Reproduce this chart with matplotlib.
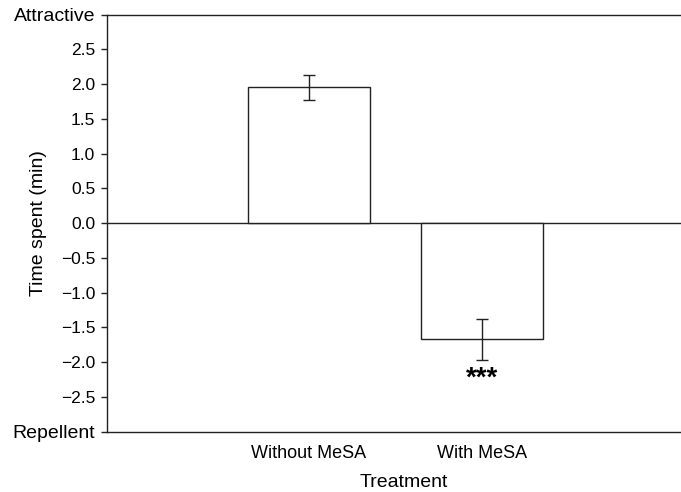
import matplotlib
matplotlib.use("Agg")
import matplotlib.pyplot as plt

plt.rcParams['font.family'] = ['Liberation Sans', 'DejaVu Sans']

categories = ["Without MeSA", "With MeSA"]
means = [1.95, -1.67]
errors = [0.177, 0.295]
yticks = [-3.0, -2.5, -2.0, -1.5, -1.0, -0.5, 0.0, 0.5, 1.0, 1.5, 2.0, 2.5, 3.0]
ytick_labels = ["Repellent", "\u22122.5", "\u22122.0", "\u22121.5", "\u22121.0", "\u22120.5",
                "0.0", "0.5", "1.0", "1.5", "2.0", "2.5", "Attractive"]
signif = ["", "***"]

fig = plt.figure(figsize=(6.81, 4.92), dpi=100)
ax = fig.add_axes([107/681, 1-431.5/492, 574/681, 417/492])

x = [1, 2]
ax.bar(x, means, width=0.705, color='white', edgecolor='#222222', linewidth=1.0, zorder=2)
ax.errorbar(x, means, yerr=errors, fmt='none', ecolor='#222222', elinewidth=1.0,
            capsize=4.5, capthick=1.0, zorder=3)
ax.axhline(0, color='#222222', linewidth=1.0, zorder=1)

for xi, m, e, s in zip(x, means, errors, signif):
    if s:
        ax.text(xi, m - e - 0.27, s, ha='center', va='center', fontsize=20, fontweight='bold')

ax.set_xlim(-0.168, 3.15)
ax.set_ylim(-3.0, 3.0)
ax.set_yticks(yticks)
ax.set_yticklabels(ytick_labels, fontsize=12.5)
for lab in ax.get_yticklabels():
    if lab.get_text() in ("Attractive", "Repellent"):
        lab.set_fontsize(14)
ax.set_xticks(x)
ax.set_xticklabels(categories, fontsize=13)
ax.tick_params(axis='x', length=0, pad=10)
ax.tick_params(axis='y', length=4.5, width=1.0, direction='out', pad=4, color='#222222')
ax.set_ylabel("Time spent (min)", fontsize=14)
ax.yaxis.set_label_coords(-0.1045, 0.5)
ax.set_xlabel("Treatment", fontsize=14)
ax.xaxis.set_label_coords(0.517, -0.103)
ax.spines['right'].set_visible(False)
for sp in ['left', 'top', 'bottom']:
    ax.spines[sp].set_linewidth(1.0)
    ax.spines[sp].set_color('#222222')

fig.savefig("out.png", dpi=100)
